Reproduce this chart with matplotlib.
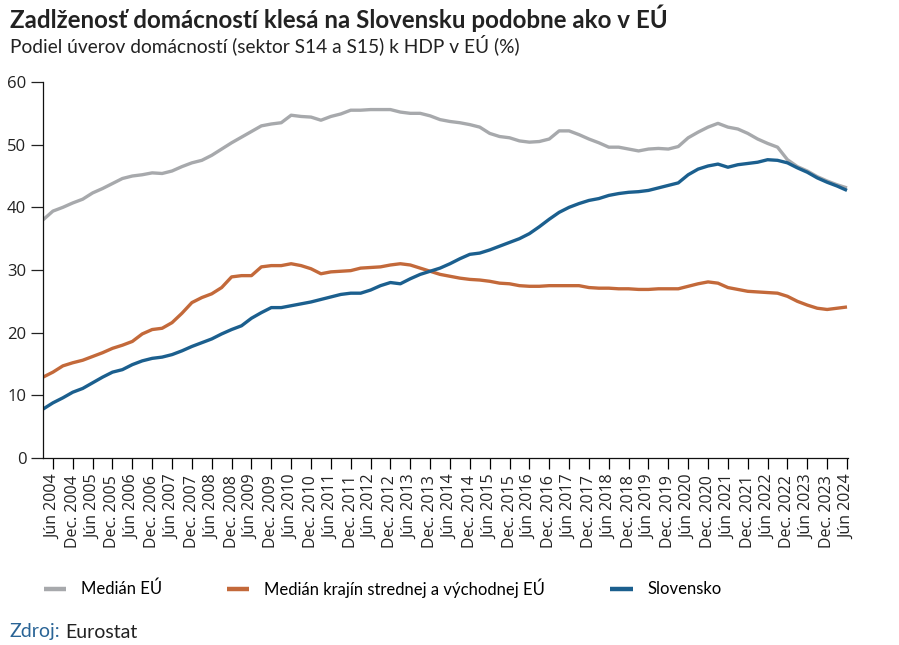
import matplotlib
matplotlib.use("Agg")
import matplotlib.pyplot as plt
import numpy as np

# quarterly data, Mar 2004 .. Jún 2024
MEDIAN_EU = [38.0, 39.4, 40.0, 40.7, 41.3, 42.3, 43.0, 43.8, 44.6, 45.0,
             45.2, 45.5, 45.4, 45.8, 46.5, 47.1, 47.5, 48.3, 49.3, 50.3,
             51.2, 52.1, 53.0, 53.3, 53.5, 54.7, 54.5, 54.4, 53.9, 54.5,
             54.9, 55.5, 55.5, 55.6, 55.6, 55.6, 55.2, 55.0, 55.0, 54.6,
             54.0, 53.7, 53.5, 53.2, 52.8, 51.8, 51.3, 51.1, 50.6, 50.4,
             50.5, 50.9, 52.2, 52.2, 51.6, 50.9, 50.3, 49.6, 49.6, 49.3,
             49.0, 49.3, 49.4, 49.3, 49.7, 51.1, 52.0, 52.8, 53.4, 52.8,
             52.5, 51.8, 50.9, 50.2, 49.6, 47.6, 46.5, 45.8, 44.9, 44.2,
             43.6, 43.1]
MEDIAN_CEE = [12.9, 13.7, 14.7, 15.2, 15.6, 16.2, 16.8, 17.5, 18.0, 18.6,
              19.8, 20.5, 20.7, 21.6, 23.1, 24.8, 25.6, 26.2, 27.2, 28.9,
              29.1, 29.1, 30.5, 30.7, 30.7, 31.0, 30.7, 30.2, 29.4, 29.7,
              29.8, 29.9, 30.3, 30.4, 30.5, 30.8, 31.0, 30.8, 30.3, 29.8,
              29.3, 29.0, 28.7, 28.5, 28.4, 28.2, 27.9, 27.8, 27.5, 27.4,
              27.4, 27.5, 27.5, 27.5, 27.5, 27.2, 27.1, 27.1, 27.0, 27.0,
              26.9, 26.9, 27.0, 27.0, 27.0, 27.4, 27.8, 28.1, 27.9, 27.2,
              26.9, 26.6, 26.5, 26.4, 26.3, 25.8, 25.0, 24.4, 23.9, 23.7,
              23.9, 24.1]
SLOVENSKO = [7.8, 8.8, 9.6, 10.5, 11.1, 12.0, 12.9, 13.7, 14.1, 14.9,
             15.5, 15.9, 16.1, 16.5, 17.1, 17.8, 18.4, 19.0, 19.8, 20.5,
             21.1, 22.3, 23.2, 24.0, 24.0, 24.3, 24.6, 24.9, 25.3, 25.7,
             26.1, 26.3, 26.3, 26.8, 27.5, 28.0, 27.8, 28.6, 29.3, 29.8,
             30.3, 31.0, 31.8, 32.5, 32.7, 33.2, 33.8, 34.4, 35.0, 35.8,
             36.9, 38.1, 39.2, 40.0, 40.6, 41.1, 41.4, 41.9, 42.2, 42.4,
             42.5, 42.7, 43.1, 43.5, 43.9, 45.2, 46.1, 46.6, 46.9, 46.4,
             46.8, 47.0, 47.2, 47.6, 47.5, 47.1, 46.3, 45.6, 44.7, 44.0,
             43.4, 42.7]

YEARS = list(range(2004, 2025))
TICK_LABELS = []
for y in YEARS:
    TICK_LABELS.append(f"Jún {y}")
    if y < 2024:
        TICK_LABELS.append(f"Dec. {y}")

SERIES = ["Medián EÚ", "Medián krajín strednej a východnej EÚ", "Slovensko"]
COLORS = ["#a7a9ac", "#c3693a", "#1b5f8e"]

W, H = 899, 645
fig = plt.figure(figsize=(W / 100, H / 100), dpi=100)
ax = fig.add_axes([43 / W, 1 - 458 / H, (848 - 43) / W, (458 - 82) / H])

x = np.arange(len(SLOVENSKO))
for vals, name, c in zip([MEDIAN_EU, MEDIAN_CEE, SLOVENSKO], SERIES, COLORS):
    ax.plot(x, vals, color=c, linewidth=2.4, label=name, solid_capstyle="butt")

ax.set_xlim(0, 81.1)
ax.set_ylim(0, 60)
ax.set_yticks(range(0, 61, 10))
ax.set_xticks(np.arange(1, 82, 2))
ax.set_xticklabels(TICK_LABELS, rotation=90)
ax.tick_params(axis="y", labelsize=12, length=9, width=0.9, colors="#222222", pad=3)
ax.tick_params(axis="x", labelsize=11.5, length=8, width=0.9, labelcolor="#222222", pad=4)
for lab in ax.get_yticklabels() + ax.get_xticklabels():
    lab.set_fontfamily("Open Sans")
for s in ["top", "right"]:
    ax.spines[s].set_visible(False)
for s in ["left", "bottom"]:
    ax.spines[s].set_linewidth(0.9)
    ax.spines[s].set_color("#111111")

leg = fig.legend(loc="upper left", bbox_to_anchor=(29 / W, 1 - 563 / H), ncol=3, frameon=False,
                 handlelength=1.33, handletextpad=0.9, columnspacing=3.9,
                 prop={"family": "Lato", "size": 12})
for h in leg.legend_handles:
    h.set_linewidth(3.2)

fig.text(10 / W, 1 - 18 / H, "Zadlženosť domácností klesá na Slovensku podobne ako v EÚ",
         fontsize=17.4, fontweight="bold", family="Lato", color="#222222", va="center")
fig.text(10 / W, 1 - 45 / H, "Podiel úverov domácností (sektor S14 a S15) k HDP v EÚ (%)",
         fontsize=13.8, family="Lato", color="#222222", va="center")
t = fig.text(10 / W, 1 - 632 / H, "Zdroj:", fontsize=14, family="Lato", color="#2a6496", va="center")
fig.canvas.draw()
bb = t.get_window_extent()
fig.text((bb.x1 + 5) / W, 1 - 632 / H, "Eurostat", fontsize=14, family="Lato",
         color="#222222", va="center")

fig.savefig("out.png", dpi=100)
